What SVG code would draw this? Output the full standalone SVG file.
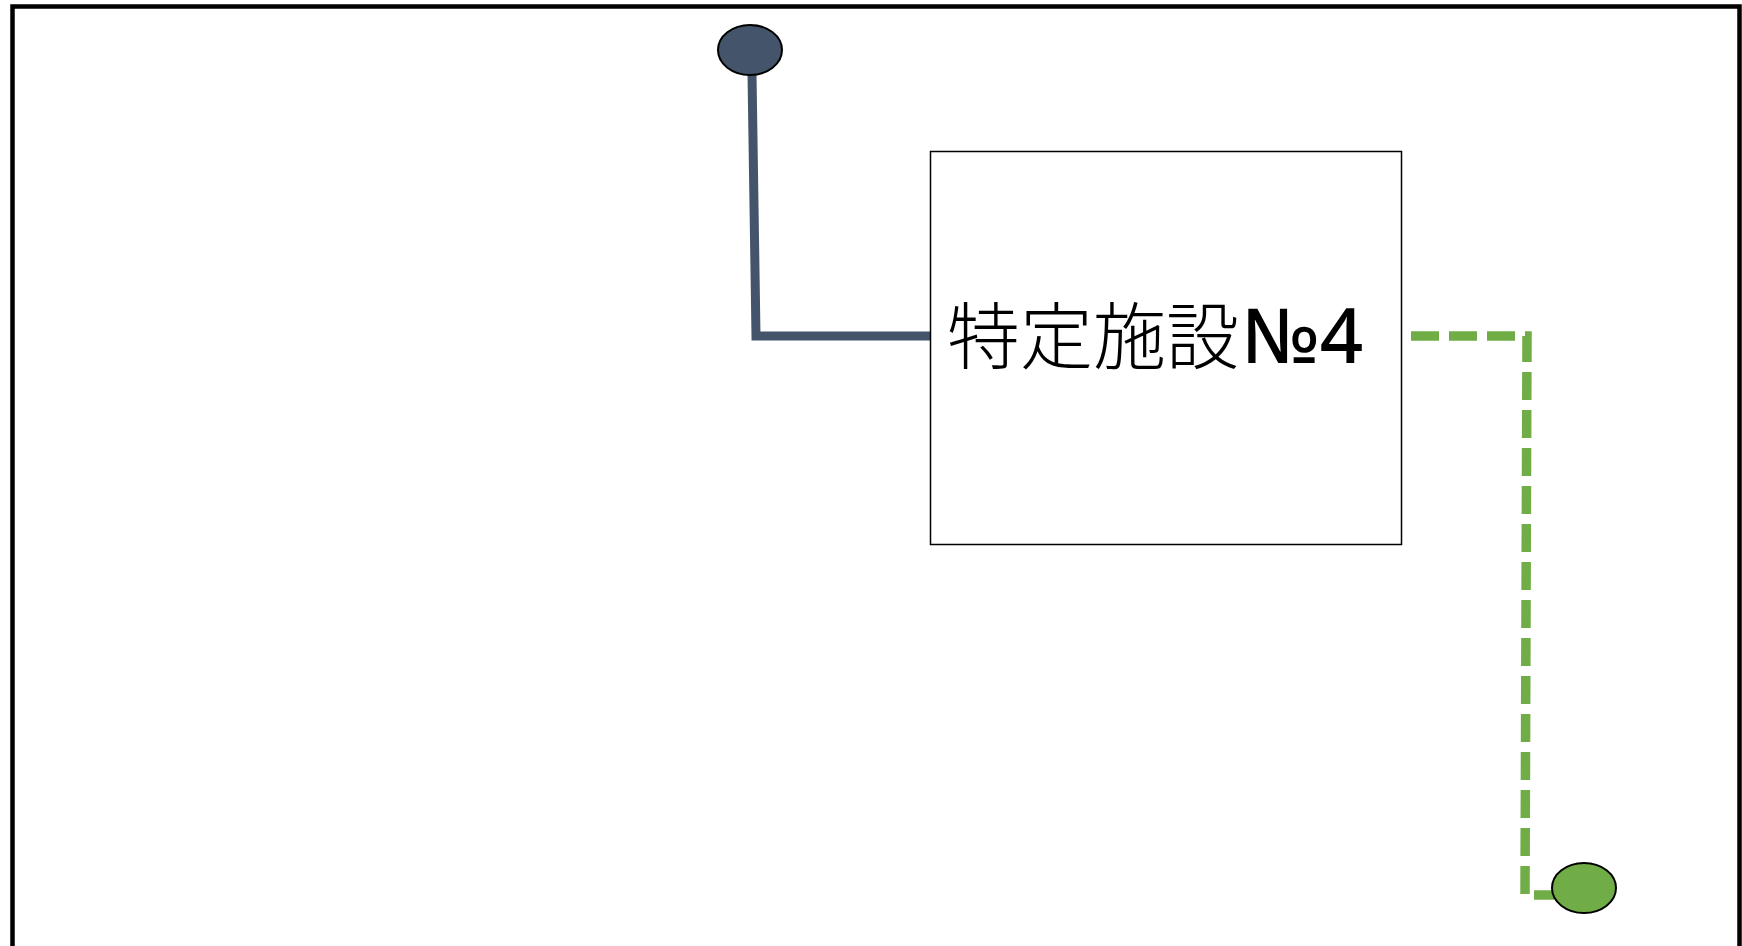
<svg xmlns="http://www.w3.org/2000/svg" width="1742" height="946" viewBox="0 0 1742 946">
<style>
.frame{fill:none;stroke:#000;stroke-width:4.5}
.box{fill:#fff;stroke:#000;stroke-width:1.5}
.dark{fill:none;stroke:#44546A;stroke-width:9}
.green{fill:none;stroke:#70AD47;stroke-width:9.5;stroke-dasharray:28 10}
.lbl{font-family:"Noto Sans CJK JP","Noto Sans",sans-serif;font-size:73px;font-weight:300;fill:#000}
.num{font-family:"Noto Sans","Open Sans",sans-serif;font-weight:500;font-size:76px}
</style>
<rect width="1742" height="946" fill="#fff"/>
<path class="frame" d="M12.5,960 V6.5 H1739.5 V960"/>
<g id="connectors">
<polyline class="dark" points="752,74 756,336 930,336"/>
<polyline class="green" points="1411,336 1527,336 1525,895 1554,895"/>
</g>
<g id="node-facility">
<rect class="box" x="930.5" y="151.5" width="471" height="393"/>
<text class="lbl" x="947" y="363">特定施設<tspan class="num" dx="3">№4</tspan></text>
</g>
<g id="node-start">
<ellipse cx="750" cy="50" rx="32" ry="25" fill="#44546A" stroke="#000" stroke-width="2"/>
</g>
<g id="node-end">
<ellipse cx="1584" cy="888" rx="32" ry="25" fill="#70AD47" stroke="#000" stroke-width="2"/>
</g>
</svg>
